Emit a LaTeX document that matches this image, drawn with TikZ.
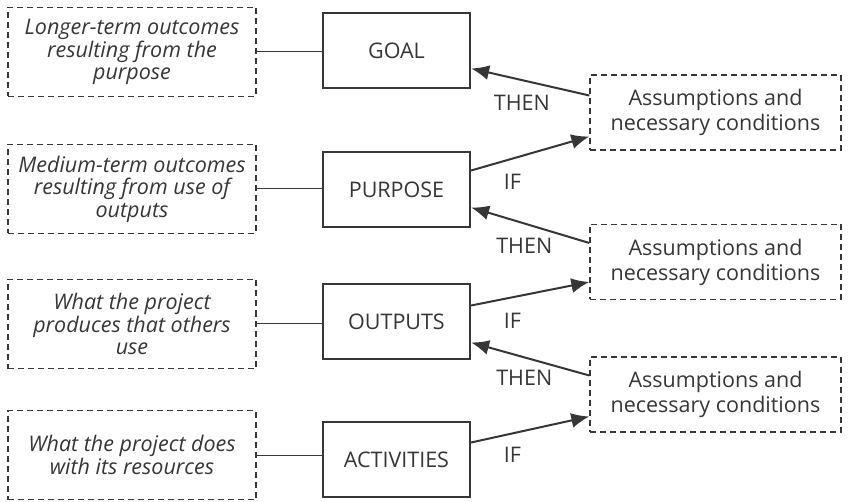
\documentclass[tikz,border=0pt]{standalone}
\usepackage{fontspec}
\setmainfont{Open Sans}
\usetikzlibrary{arrows.meta}
\definecolor{ink}{HTML}{363636}
\begin{document}
\begin{tikzpicture}[x=1pt,y=-1pt,>={Latex[length=18pt,width=15pt]},
  level/.style={rectangle,draw=ink,line width=2.2pt,fill=white,minimum width=147pt,minimum height=75pt,text=ink,font=\fontsize{21.5}{25}\selectfont},
  note/.style={rectangle,draw=ink,dash pattern=on 6pt off 4pt,line width=1.3pt,minimum width=248pt,minimum height=89pt,align=center,text=ink,font=\fontsize{21.5}{22.5}\selectfont\itshape},
  cond/.style={rectangle,draw=ink,dash pattern=on 6pt off 4pt,line width=1.3pt,minimum width=251pt,minimum height=75pt,align=center,text=ink,font=\fontsize{21.5}{25}\selectfont},
  link/.style={->,draw=ink,line width=2pt},
  tag/.style={text=ink,font=\fontsize{21.5}{25}\selectfont}]
\useasboundingbox (0,0) rectangle (848,502);

\node (goal) at (396.5,50.5)[level]{GOAL};
\node (purpose) at (396.5,189.5)[level]{PURPOSE};
\node (outputs) at (396.5,321.5)[level]{OUTPUTS};
\node (activities) at (396.5,459.5)[level]{ACTIVITIES};

\node (n1) at (132,52)[note]{Longer-term outcomes\\resulting from the\\purpose};
\node (n2) at (132,189)[note]{Medium-term outcomes\\resulting from use of\\outputs};
\node (n3) at (132,324)[note]{What the project\\produces that others\\use};
\node (n4) at (132,455)[note]{What the project does\\with its resources};

\node (c1) at (715.5,112.5)[cond]{Assumptions and\\necessary conditions};
\node (c2) at (715.5,262)[cond]{Assumptions and\\necessary conditions};
\node (c3) at (715.5,394.5)[cond]{Assumptions and\\necessary conditions};

\draw[ink,line width=1pt] (n1.east) -- (n1.east -| goal.west);
\draw[ink,line width=1pt] (n2.east) -- (n2.east -| purpose.west);
\draw[ink,line width=1pt] (n3.east) -- (n3.east -| outputs.west);
\draw[ink,line width=1pt] (n4.east) -- (n4.east -| activities.west);

\draw[link] ([yshift=17pt]c1.west)--node[tag,pos=0.57,below=11pt]{THEN}([yshift=-18pt]goal.east);
\draw[link] ([yshift=19pt]purpose.east)--node[tag,pos=0.35,below=11pt]{IF}([yshift=-24pt]c1.west);
\draw[link] ([yshift=19pt]c2.west)--node[tag,pos=0.55,below=10pt]{THEN}([yshift=-18pt]purpose.east);
\draw[link] ([yshift=16pt]outputs.east)--node[tag,pos=0.35,below=12pt]{IF}([yshift=-20pt]c2.west);
\draw[link] ([yshift=19pt]c3.west)--node[tag,pos=0.55,below=8pt]{THEN}([yshift=-21pt]outputs.east);
\draw[link] ([yshift=17pt]activities.east)--node[tag,pos=0.35,below=9pt]{IF}([yshift=-22pt]c3.west);
\end{tikzpicture}
\end{document}
